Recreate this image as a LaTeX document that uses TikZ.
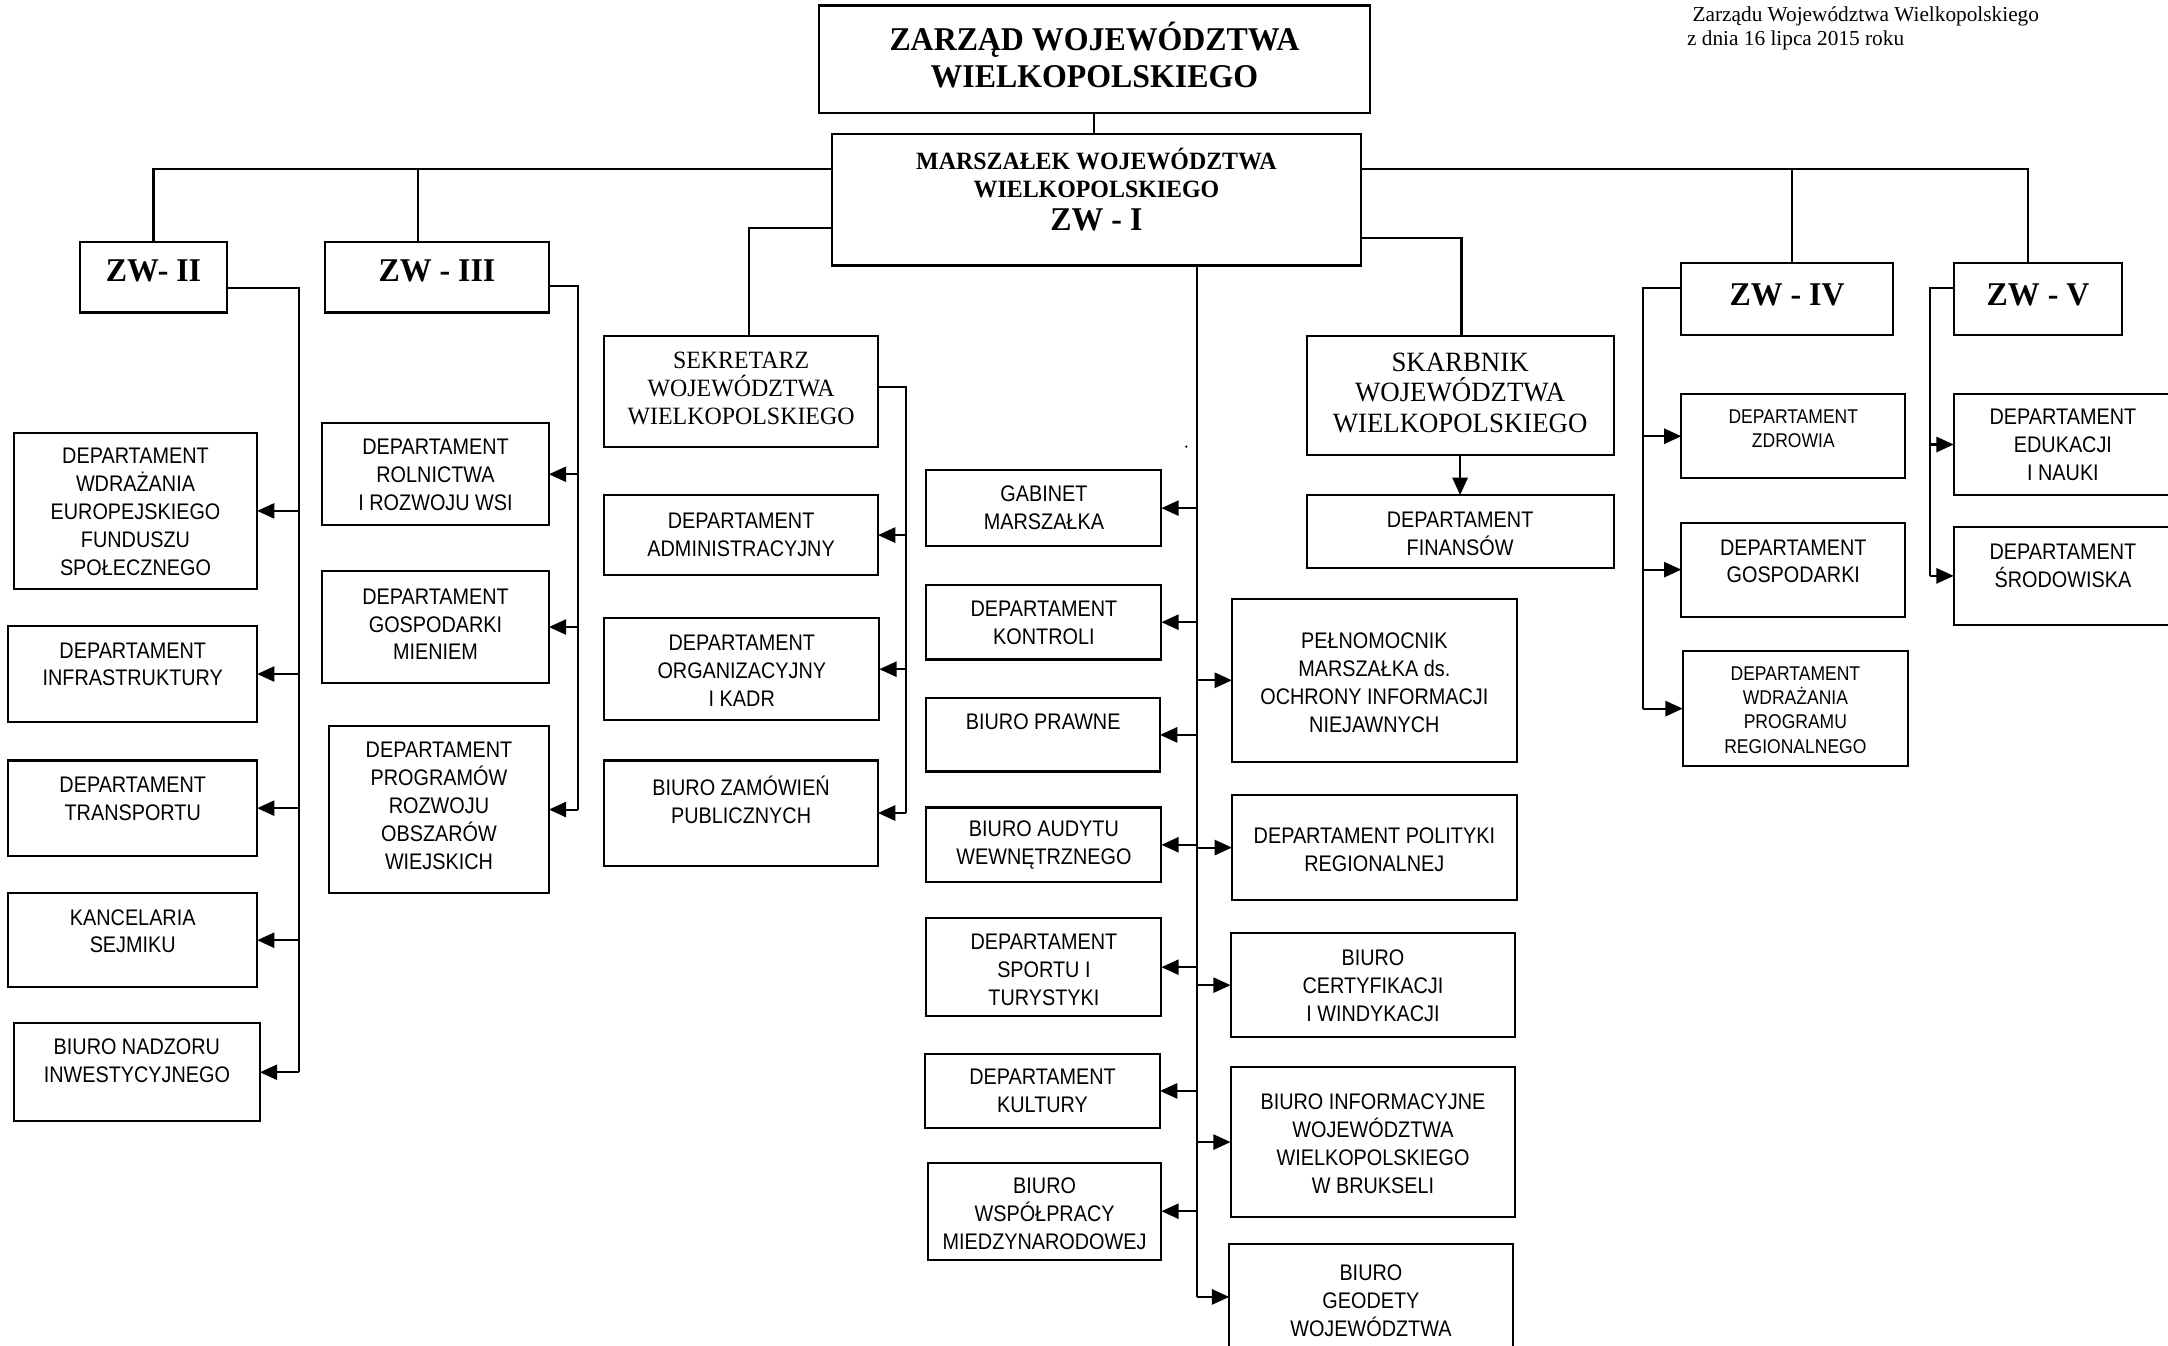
\documentclass[tikz,border=0pt]{standalone}
\usepackage{fontspec}
\setmainfont{Liberation Serif}
\newfontfamily\sansc{Liberation Sans}[FakeStretch=0.88]
\newfontfamily\serifc{Liberation Serif}[FakeStretch=0.96]
\usetikzlibrary{arrows.meta}
\newcommand\myfs{\sansc\fontsize{16.3}{20.2}\selectfont}
\newcommand\myfss{\sansc\fontsize{14.4}{17.7}\selectfont}
\newcommand\obox[8][st]{%
  \node[box, minimum width={(#5-#3)*1pt}, minimum height={(#6-#4)*1pt}] (#2) at (#3,#4) {};
  \node[#1] (#2-t) at ({(#3+#5)/2},#7) {#8};}
\tikzset{
  box/.style={draw, line width=1.5pt, inner sep=0pt, outer sep=0pt, anchor=north west},
  st/.style={align=center, inner sep=0pt, font=\myfs},
  sts/.style={align=center, inner sep=0pt, font=\myfss},
  sr/.style={align=center, inner sep=0pt, font=\serifc\fontsize{18}{20}\selectfont},
  sk/.style={align=center, inner sep=0pt, font=\serifc\fontsize{20.2}{22}\selectfont},
  srb/.style={align=center, inner sep=0pt, font=\serifc\bfseries\fontsize{18}{20}\selectfont},
  top/.style={align=center, inner sep=0pt, font=\serifc\bfseries\fontsize{24}{27}\selectfont},
  big/.style={align=center, inner sep=0pt, font=\serifc\bfseries\fontsize{24}{27}\selectfont},
  note/.style={anchor=west, inner sep=0pt, font=\fontsize{15.4}{17}\selectfont},
  conn/.style={line width=1.5pt},
  arr/.style={conn, -{Triangle[length=12.5pt,width=11pt]}}
}
\begin{document}
\begin{tikzpicture}[x=1pt,y=-1pt]
\useasboundingbox (0,0) rectangle (1568,973);
% top note
\node[note] (n1) at (1224,12) {Zarządu Województwa Wielkopolskiego};
\node[note] (n2) at (1220,29) {z dnia 16 lipca 2015 roku};
% top boxes
\obox[top]{zarzad}{592}{4}{991}{82}{40}{ZARZĄD WOJEWÓDZTWA\\WIELKOPOLSKIEGO}
\obox[srb]{marsz}{602}{97}{984}{192}{125}{MARSZAŁEK WOJEWÓDZTWA\\WIELKOPOLSKIEGO}
\node[big] (marsz-z) at (793,159) {ZW - I};
\obox[big]{zw2}{58}{175}{164}{226}{196}{ZW- II}
\obox[big]{zw3}{235}{175}{397}{226}{196}{ZW - III}
\obox[big]{zw4}{1216}{190}{1369}{242}{213}{ZW - IV}
\obox[big]{zw5}{1413}{190}{1535}{242}{213}{ZW - V}
\obox[sr]{sek}{437}{243}{635}{323}{281}{SEKRETARZ\\WOJEWÓDZTWA\\WIELKOPOLSKIEGO}
\obox[sk]{skarb}{945}{243}{1167}{329}{284}{SKARBNIK\\WOJEWÓDZTWA\\WIELKOPOLSKIEGO}
% ZW-II column
\obox{d1}{10}{313}{186}{426}{370}{DEPARTAMENT\\WDRAŻANIA\\EUROPEJSKIEGO\\FUNDUSZU\\SPOŁECZNEGO}
\obox{d2}{6}{453}{186}{522}{480.5}{DEPARTAMENT\\INFRASTRUKTURY}
\obox{d3}{6}{550}{186}{619}{578}{DEPARTAMENT\\TRANSPORTU}
\obox{d4}{6}{646}{186}{714}{673.5}{KANCELARIA\\SEJMIKU}
\obox{d5}{10}{740}{188}{811}{767.5}{BIURO NADZORU\\INWESTYCYJNEGO}
% ZW-III column
\obox{e1}{233}{306}{397}{380}{343.5}{DEPARTAMENT\\ROLNICTWA\\I ROZWOJU WSI}
\obox{e2}{233}{413}{397}{494}{451.5}{DEPARTAMENT\\GOSPODARKI\\MIENIEM}
\obox{e3}{238}{525}{397}{646}{583}{DEPARTAMENT\\PROGRAMÓW\\ROZWOJU\\OBSZARÓW\\WIEJSKICH}
% Sekretarz column
\obox{f1}{437}{358}{635}{416}{386.5}{DEPARTAMENT\\ADMINISTRACYJNY}
\obox{f2}{437}{447}{636}{521}{485}{DEPARTAMENT\\ORGANIZACYJNY\\I KADR}
\obox{f3}{437}{550}{635}{626}{578.5}{BIURO ZAMÓWIEŃ\\PUBLICZNYCH}
% Marszalek left
\obox{g1}{670}{340}{840}{395}{367}{GABINET\\MARSZAŁKA}
\obox{g2}{670}{423}{840}{477}{450.5}{DEPARTAMENT\\KONTROLI}
\obox{g3}{670}{505}{839}{558}{522}{BIURO PRAWNE}
\obox{g4}{670}{584}{840}{638}{611}{BIURO AUDYTU\\WEWNĘTRZNEGO}
\obox{g5}{670}{664}{840}{735}{701.5}{DEPARTAMENT\\SPORTU I\\TURYSTYKI}
\obox{g6}{669}{762}{839}{816}{789}{DEPARTAMENT\\KULTURY}
\obox{g7}{671}{841}{840}{911}{878}{BIURO\\WSPÓŁPRACY\\MIEDZYNARODOWEJ}
% Marszalek right
\obox{h1}{891}{433}{1097}{551}{494}{PEŁNOMOCNIK\\MARSZAŁKA ds.\\OCHRONY INFORMACJI\\NIEJAWNYCH}
\obox{h2}{891}{575}{1097}{651}{614.5}{DEPARTAMENT POLITYKI\\REGIONALNEJ}
\obox{h3}{890}{675}{1096}{750}{713}{BIURO\\CERTYFIKACJI\\I WINDYKACJI}
\obox{h4}{890}{772}{1096}{880}{827}{BIURO INFORMACYJNE\\WOJEWÓDZTWA\\WIELKOPOLSKIEGO\\W BRUKSELI}
\obox{h5}{889}{900}{1094}{976}{940.5}{BIURO\\GEODETY\\WOJEWÓDZTWA}
% Skarbnik
\obox{fin}{945}{358}{1167}{411}{386}{DEPARTAMENT\\FINANSÓW}
% ZW-IV
\obox[sts]{i1}{1216}{285}{1378}{346}{310}{DEPARTAMENT\\ZDROWIA}
\obox{i2}{1216}{378}{1378}{446}{406}{DEPARTAMENT\\GOSPODARKI}
\obox[sts]{i3}{1217}{471}{1380}{554}{513.5}{DEPARTAMENT\\WDRAŻANIA\\PROGRAMU\\REGIONALNEGO}
% ZW-V
\obox{j1}{1413}{285}{1571}{358}{322}{DEPARTAMENT\\EDUKACJI\\I NAUKI}
\obox{j2}{1413}{381}{1571}{452}{409}{DEPARTAMENT\\ŚRODOWISKA}
% stray dot
\fill (858,323) circle (0.9);
% connectors: top
\draw[conn] (zarzad.south) -- (zarzad.south |- marsz.north);
\coordinate (tl) at (111,122);
\coordinate (tl3) at (302,122);
\coordinate (tr) at (1467,122);
\coordinate (tr4) at (1296,122);
\draw[conn] (marsz.west |- tl) -- (tl) -- (tl |- zw2.north);
\draw[conn] (tl3) -- (tl3 |- zw3.north);
\draw[conn] (marsz.east |- tr) -- (tr) -- (tr |- zw5.north);
\draw[conn] (tr4) -- (tr4 |- zw4.north);
\coordinate (skc) at (542,165);
\draw[conn] (marsz.west |- skc) -- (skc) -- (skc |- sek.north);
\coordinate (sbc) at (1057,172);
\draw[conn] (marsz.east |- sbc) -- (sbc) -- (sbc |- skarb.north);
\draw[arr] (skarb.south) -- (fin.north);
% ZW-II bus
\coordinate (b2) at (216,208);
\draw[conn] (zw2.east |- b2) -- (b2) -- (b2 |- d5.east);
\foreach \n in {d1,d2,d3,d4,d5} \draw[arr] (b2 |- \n.east) -- (\n.east);
% ZW-III bus
\coordinate (b3) at (418,207);
\draw[conn] (zw3.east |- b3) -- (b3) -- (b3 |- e3.east);
\foreach \n in {e1,e2,e3} \draw[arr] (b3 |- \n.east) -- (\n.east);
% Sekretarz bus
\coordinate (bs) at (655,280);
\draw[conn] (sek.east |- bs) -- (bs) -- (bs |- f3.east);
\foreach \n in {f1,f2,f3} \draw[arr] (bs |- \n.east) -- (\n.east);
% Marszalek bus
\coordinate (mb) at (866,192);
\draw[conn] (mb) -- (mb |- h5.west);
\foreach \n in {g1,g2,g3,g4,g5,g6,g7} \draw[arr] (mb |- \n.east) -- (\n.east);
\foreach \n in {h1,h2,h3,h4,h5} \draw[arr] (mb |- \n.west) -- (\n.west);
% ZW-IV bus
\coordinate (b4) at (1188,208);
\draw[conn] (zw4.west |- b4) -- (b4) -- (b4 |- i3.west);
\foreach \n in {i1,i2,i3} \draw[arr] (b4 |- \n.west) -- (\n.west);
% ZW-V bus
\coordinate (b5) at (1396,208);
\draw[conn] (zw5.west |- b5) -- (b5) -- (b5 |- j2.west);
\foreach \n in {j1,j2} \draw[arr] (b5 |- \n.west) -- (\n.west);
\end{tikzpicture}
\end{document}
